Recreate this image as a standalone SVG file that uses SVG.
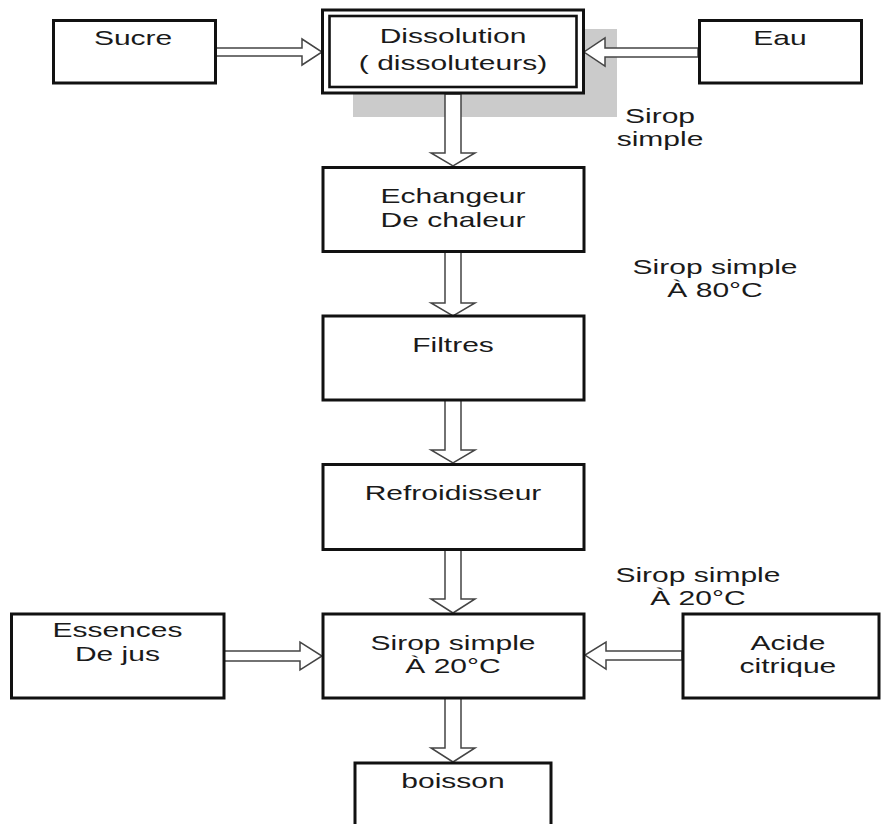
<svg xmlns="http://www.w3.org/2000/svg" width="881" height="824" viewBox="0 0 881 824">
  <style>
    .box { fill: #ffffff; stroke: #111111; stroke-width: 3; }
    .frame { fill: none; stroke: #111111; stroke-width: 2.6; }
    .flow { fill: #ffffff; stroke: #444444; stroke-width: 1.5; stroke-linejoin: miter; }
    .lbl { font-family: "Liberation Sans", Arial, sans-serif; font-size: 20px; fill: #1a1a1a; text-anchor: middle; }
  </style>

  <rect width="881" height="824" fill="#ffffff"/>

  <!-- shadow behind the dissolution block -->
  <rect x="353" y="29" width="264" height="88" fill="#cbcbcb"/>

  <!-- connectors: hollow block arrows -->
  <g id="connectors">
    <polygon class="flow" points="216,48 302,48 302,39 322,52 302,65 302,56 216,56"/>
    <polygon class="flow" points="698,48 605,48 605,38 584,52 605,66 605,57 698,57"/>
    <polygon class="flow" points="445,94 461,94 461,153 475,153 453,166 431,153 445,153"/>
    <polygon class="flow" points="445,252 461,252 461,303 475,303 453,316 431,303 445,303"/>
    <polygon class="flow" points="445,400 461,400 461,450 475,450 453,463 431,450 445,450"/>
    <polygon class="flow" points="445,550 461,550 461,599 475,599 453,613 431,599 445,599"/>
    <polygon class="flow" points="445,698 461,698 461,748 475,748 453,762 431,748 445,748"/>
    <polygon class="flow" points="224,651 300,651 300,642 322,656 300,670 300,661 224,661"/>
    <polygon class="flow" points="682,651 606,651 606,642 585,655 606,669 606,660 682,660"/>
  </g>

  <g id="sucre"><rect class="box" x="53.5" y="20.5" width="162" height="62.5"/></g>
  <g id="dissolution">
    <rect class="box" x="322.5" y="10" width="261" height="83"/>
    <rect class="frame" x="329.5" y="16" width="247" height="71"/>
  </g>
  <g id="eau"><rect class="box" x="699.5" y="20.5" width="162" height="62.5"/></g>
  <g id="echangeur"><rect class="box" x="323" y="167.5" width="261" height="84"/></g>
  <g id="filtres"><rect class="box" x="323" y="316" width="261" height="84"/></g>
  <g id="refroidisseur"><rect class="box" x="323" y="464.5" width="261" height="85"/></g>
  <g id="sirop"><rect class="box" x="323" y="614" width="261" height="84"/></g>
  <g id="essences"><rect class="box" x="11.5" y="614" width="212.5" height="84"/></g>
  <g id="acide"><rect class="box" x="683" y="614" width="196" height="84"/></g>
  <g id="boisson"><rect class="box" x="355" y="763" width="196" height="80"/></g>

  <!-- labels, drawn with a 1.5x horizontal stretch -->
  <g id="labels" transform="scale(1.5,1)">
    <text class="lbl" x="88.7" y="45">Sucre</text>
    <text class="lbl" x="302" y="43">Dissolution</text>
    <text class="lbl" x="302" y="70">( dissoluteurs)</text>
    <text class="lbl" x="520" y="45">Eau</text>
    <text class="lbl" x="440" y="123">Sirop</text>
    <text class="lbl" x="440" y="146">simple</text>
    <text class="lbl" x="302" y="203">Echangeur</text>
    <text class="lbl" x="302" y="227">De chaleur</text>
    <text class="lbl" x="476.7" y="274">Sirop simple</text>
    <text class="lbl" x="476.7" y="297">À 80°C</text>
    <text class="lbl" x="302" y="352">Filtres</text>
    <text class="lbl" x="302" y="500">Refroidisseur</text>
    <text class="lbl" x="465.3" y="582">Sirop simple</text>
    <text class="lbl" x="465.3" y="605">À 20°C</text>
    <text class="lbl" x="302" y="650">Sirop simple</text>
    <text class="lbl" x="302" y="673">À 20°C</text>
    <text class="lbl" x="78.3" y="637">Essences</text>
    <text class="lbl" x="78.3" y="661">De jus</text>
    <text class="lbl" x="525.3" y="650">Acide</text>
    <text class="lbl" x="525.3" y="673">citrique</text>
    <text class="lbl" x="302" y="788">boisson</text>
  </g>
</svg>
